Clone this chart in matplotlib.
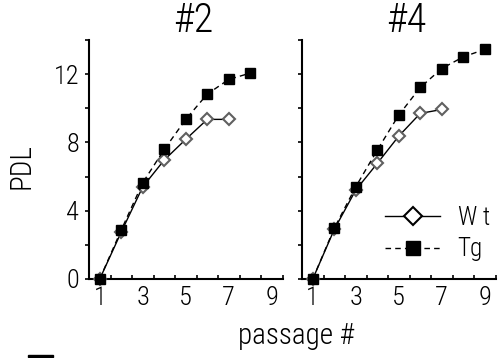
import matplotlib
matplotlib.use("Agg")
import matplotlib.pyplot as plt
from matplotlib.lines import Line2D
from matplotlib.patches import Rectangle

plt.rcParams["font.family"] = ["Roboto Condensed", "Archivo Narrow", "DejaVu Sans"]
plt.rcParams["font.weight"] = "light"
plt.rcParams["axes.titleweight"] = "light"

# clone #2
passage_2_wt = [1, 2, 3, 4, 5, 6, 7]
wt_2 = [0, 2.75, 5.4, 6.97, 8.18, 9.35, 9.35]
passage_2_tg = [1, 2, 3, 4, 5, 6, 7, 8]
tg_2 = [0, 2.87, 5.64, 7.59, 9.35, 10.83, 11.69, 12.06]

# clone #4
passage_4_wt = [1, 2, 3, 4, 5, 6, 7]
wt_4 = [0, 2.9, 5.21, 6.77, 8.37, 9.7, 9.93]
passage_4_tg = [1, 2, 3, 4, 5, 6, 7, 8, 9]
tg_4 = [0, 2.97, 5.4, 7.55, 9.6, 11.22, 12.33, 13.01, 13.45]

titles = ["#2", "#4"]
x_labels = [1, 3, 5, 7, 9]
y_labels = [0, 4, 8, 12]

W, H = 499, 358
fig = plt.figure(figsize=(W / 100, H / 100), dpi=100)

ax1 = fig.add_axes([89 / W, 1 - 279 / H, 193.5 / W, 239 / H])
ax2 = fig.add_axes([302 / W, 1 - 279 / H, 193.5 / W, 239 / H])

wt_style = dict(color="black", lw=1.0, marker="D", ms=6.5, mfc="white",
                mec="#606060", mew=1.5)
tg_style = dict(color="black", lw=1.0, ls=(0, (4, 3)), marker="s", ms=7.5,
                mfc="black", mec="black")

data = [(passage_2_wt, wt_2, passage_2_tg, tg_2),
        (passage_4_wt, wt_4, passage_4_tg, tg_4)]

for ax, (xw, yw, xt, yt), title in zip([ax1, ax2], data, titles):
    ax.plot(xw, yw, **wt_style, clip_on=False, zorder=3)
    ax.plot(xt, yt, **tg_style, clip_on=False, zorder=4)
    ax.set_xlim(0.5, 9.5)
    ax.set_ylim(0, 14)
    for s in ["top", "right"]:
        ax.spines[s].set_visible(False)
    for s in ["left", "bottom"]:
        ax.spines[s].set_linewidth(1.5)
    ax.set_xticks(x_labels)
    ax.set_xticks([i + 0.5 for i in range(10)], minor=True)
    ax.tick_params(axis="x", which="major", length=0, pad=5, labelsize=19)
    ax.tick_params(axis="x", which="minor", direction="in", length=3, width=1.2)
    ax.set_yticks(range(0, 15, 2))
    ax.tick_params(axis="y", direction="out", length=3, width=1.2, pad=4,
                   labelsize=19)
    ax.set_title(title, fontsize=29, fontweight="light", x=0.54, pad=-1)

ax1.set_yticklabels([str(v) if v in y_labels else "" for v in range(0, 15, 2)])
ax2.set_yticklabels([])

handles = [
    Line2D([], [], color="black", lw=1.0, marker="D", ms=9, mfc="white",
           mec="black", mew=1.5),
    Line2D([], [], color="black", lw=1.0, ls=(0, (4, 3)), marker="s", ms=10,
           mfc="black", mec="black"),
]
ax2.legend(handles, ["W t", "Tg"], loc="center", bbox_to_anchor=(0.70, 0.19),
           frameon=False, fontsize=18, handlelength=2.2, handletextpad=0.7,
           labelspacing=0.3, borderpad=0)

fig.text(22 / W, 1 - 166 / H, "PDL", rotation=90, ha="center", va="center",
         fontsize=21)
fig.text(296 / W, 1 - 336 / H, "passage #", ha="center", va="center",
         fontsize=21)

fig.patches.append(Rectangle((28 / W, 1 - 357 / H), 25 / W, 2.5 / H,
                             transform=fig.transFigure, color="black"))

fig.savefig("out.png", dpi=100)
